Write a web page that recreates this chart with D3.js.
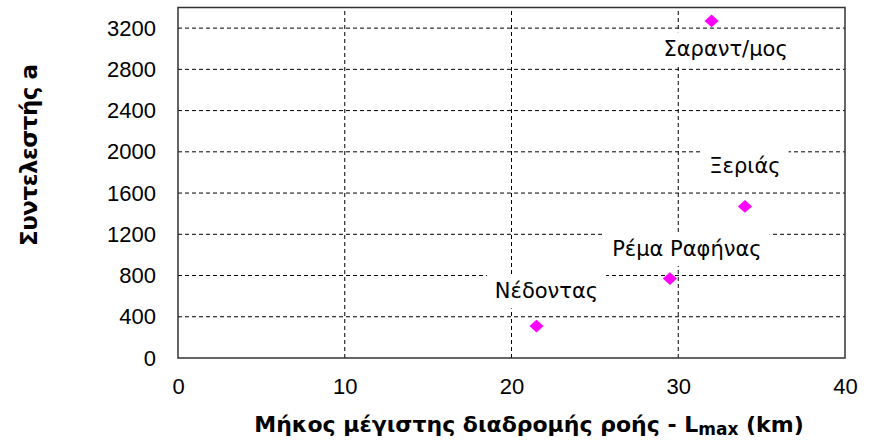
<!DOCTYPE html>
<html><head><meta charset="utf-8">
<script src="https://cdn.jsdelivr.net/npm/d3@7"></script>
<style>body{margin:0;background:#fff}svg{display:block}</style>
</head><body><div id="chart"></div>
<script>
const names = ["Νέδοντας", "Ρέμα Ραφήνας", "Ξεριάς", "Σαραντ/μος"];
const lmax = [21.5, 29.5, 34.0, 32.0];
const coefA = [310, 770, 1470, 3270];
const xTicks = [0, 10, 20, 30, 40];
const yTicks = [0, 400, 800, 1200, 1600, 2000, 2400, 2800, 3200];
const xTitle = "Μήκος μέγιστης διαδρομής ροής - L";
const xTitleSub = "max";
const xTitleEnd = " (km)";
const yTitle = "Συντελεστής a";

// label offsets in px (layout)
const labelOffsets = [[10, -35], [17, -30], [0, -41], [14, 28]];

const W = 877, H = 445;
const m = {left: 178, right: 32, top: 7.5, bottom: 87};
const svg = d3.select("#chart").append("svg").attr("width", W).attr("height", H);
const x = d3.scaleLinear().domain([0, 40]).range([m.left, W - m.right]);
const y = d3.scaleLinear().domain([0, 3400]).range([H - m.bottom, m.top]);

const font = "'Liberation Sans', Arial, sans-serif";
const wide = "'DejaVu Sans', Verdana, sans-serif";

// gridlines
svg.append("g").selectAll("line").data(yTicks.filter(d => d > 0)).join("line")
  .attr("x1", x(0)).attr("x2", x(40)).attr("y1", d => y(d)).attr("y2", d => y(d))
  .attr("stroke", "#000").attr("stroke-width", 1).attr("stroke-dasharray", "4,3");
svg.append("g").selectAll("line").data(xTicks.filter(d => d > 0 && d < 40)).join("line")
  .attr("x1", d => x(d)).attr("x2", d => x(d)).attr("y1", y(0)).attr("y2", y(3400))
  .attr("stroke", "#000").attr("stroke-width", 1).attr("stroke-dasharray", "4,3");

// axes (tick labels only)
const xAxis = d3.axisBottom(x).tickValues(xTicks).tickSize(0).tickPadding(20).tickFormat(d3.format("d"));
const gx = svg.append("g").attr("transform", `translate(0,${y(0)})`).call(xAxis);
gx.select(".domain").remove();
gx.selectAll("text").attr("font-family", font).attr("font-size", 22).attr("fill", "#000");
const yAxis = d3.axisLeft(y).tickValues(yTicks).tickSize(0).tickPadding(22).tickFormat(d3.format("d"));
const gy = svg.append("g").attr("transform", `translate(${x(0)},0)`).call(yAxis);
gy.select(".domain").remove();
gy.selectAll("text").attr("font-family", font).attr("font-size", 22).attr("fill", "#000");

// frame
svg.append("rect").attr("x", x(0)).attr("y", y(3400)).attr("width", x(40) - x(0)).attr("height", y(0) - y(3400))
  .attr("fill", "none").attr("stroke", "#333").attr("stroke-width", 1.5);

// data labels with white boxes
const pts = names.map((n, i) => ({n, x: lmax[i], y: coefA[i], o: labelOffsets[i]}));
const lg = svg.append("g");
pts.forEach(p => {
  const g = lg.append("g");
  const cx = x(p.x) + p.o[0], cy = y(p.y) + p.o[1];
  const t = g.append("text").attr("x", cx).attr("y", cy).attr("dy", "0.35em")
    .attr("text-anchor", "middle").attr("font-family", wide).attr("font-size", 21).attr("fill", "#000").text(p.n);
  const bb = t.node().getBBox();
  g.insert("rect", "text").attr("x", bb.x - 8).attr("y", bb.y - 5).attr("width", bb.width + 16).attr("height", bb.height + 10)
    .attr("fill", "#fff");
});

// markers
svg.append("g").selectAll("path").data(pts).join("path")
  .attr("d", d3.symbol(d3.symbolDiamond2, 128)())
  .attr("transform", d => `translate(${x(d.x)},${y(d.y)}) scale(1,0.9)`)
  .attr("fill", "#ff00ff");

// axis titles
const xt = svg.append("text").attr("x", 529).attr("y", 432).attr("text-anchor", "middle")
  .attr("font-family", wide).attr("font-size", 22).attr("font-weight", "bold").attr("fill", "#000");
xt.append("tspan").text(xTitle);
xt.append("tspan").attr("font-size", 17).attr("dy", 3).text(xTitleSub);
xt.append("tspan").attr("dy", -3).text(xTitleEnd);

svg.append("text").attr("transform", `translate(37,155) rotate(-90)`).attr("text-anchor", "middle")
  .attr("font-family", wide).attr("font-size", 23).attr("font-weight", "bold").attr("fill", "#000")
  .attr("textLength", 182).attr("lengthAdjust", "spacing").text(yTitle);
</script></body></html>
